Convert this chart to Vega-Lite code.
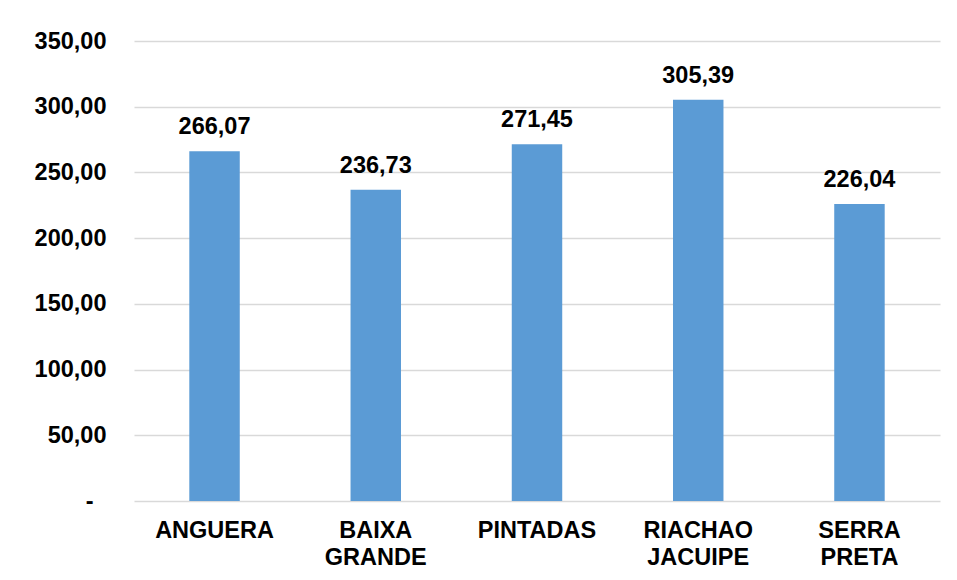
{
  "$schema": "https://vega.github.io/schema/vega-lite/v6.json",
  "autosize": "none",
  "width": 806,
  "height": 460,
  "padding": {"left": 134, "top": 41, "right": 17, "bottom": 79},
  "background": "white",
  "config": {
    "view": {"stroke": null},
    "locale": {"number": {"decimal": ",", "thousands": ".", "grouping": [3], "currency": ["R$", ""]}},
    "font": "Liberation Sans"
  },
  "data": {
    "values": [
      {"municipio": "ANGUERA", "valor": 266.07},
      {"municipio": "BAIXA GRANDE", "valor": 236.73},
      {"municipio": "PINTADAS", "valor": 271.45},
      {"municipio": "RIACHAO JACUIPE", "valor": 305.39},
      {"municipio": "SERRA PRETA", "valor": 226.04}
    ]
  },
  "encoding": {
    "x": {
      "field": "municipio",
      "type": "nominal",
      "sort": null,
      "scale": {"paddingInner": 0.687, "paddingOuter": 0.343},
      "axis": {
        "title": null,
        "domain": false,
        "ticks": false,
        "tickSize": 0,
        "labelAngle": 0,
        "labelFont": "Liberation Sans",
        "labelFontSize": 23.5,
        "labelFontWeight": "bold",
        "labelColor": "#000000",
        "labelPadding": 17,
        "labelLineHeight": 27,
        "labelBaseline": "top",
        "labelExpr": "split(datum.label, ' ')"
      }
    },
    "y": {
      "field": "valor",
      "type": "quantitative",
      "scale": {"domain": [0, 350], "nice": false},
      "axis": {
        "title": null,
        "domain": false,
        "ticks": false,
        "tickSize": 0,
        "values": [0, 50, 100, 150, 200, 250, 300, 350],
        "grid": true,
        "gridColor": "#d9d9d9",
        "gridWidth": 1.5,
        "labelFont": "Liberation Sans",
        "labelFontSize": 23.5,
        "labelFontWeight": "bold",
        "labelColor": "#000000",
        "labelPadding": {"condition": {"test": "datum.value === 0", "value": 41}, "value": 28},
        "labelExpr": "datum.value === 0 ? '-' : replace(format(datum.value, '.2f'), '.', ',')"
      }
    }
  },
  "layer": [
    {"mark": {"type": "bar", "color": "#5b9bd5"}},
    {
      "mark": {
        "type": "text",
        "font": "Liberation Sans",
        "fontSize": 23.5,
        "fontWeight": "bold",
        "color": "#000000",
        "baseline": "alphabetic",
        "dy": -17
      },
      "encoding": {"text": {"field": "valor", "type": "quantitative", "format": ".2f"}}
    }
  ]
}
